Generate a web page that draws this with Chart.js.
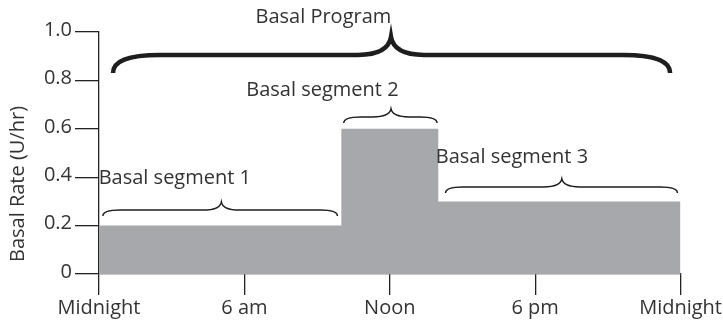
<!DOCTYPE html>
<html>
<head>
<meta charset="utf-8">
<script src="https://cdn.jsdelivr.net/npm/chart.js@4"></script>
<style>
  html, body { margin: 0; padding: 0; background: #fff; }
  #wrap { width: 723px; height: 322px; position: relative; }
</style>
</head>
<body>
<div id="wrap"><canvas id="chart"></canvas></div>
<script>
// step profile: hour of the change and the rate from that hour on
const hours = [0, 10, 14, 24];
const rates = [0.2, 0.6, 0.3, 0.3];

const xTickLabels = ['Midnight', '6 am', 'Noon', '6 pm', 'Midnight'];
const yTickLabels = ['0', '0.2', '0.4', '0.6', '0.8', '1.0'];
const yTitle = 'Basal Rate (U/hr)';

// braces (hours / rate units)
const braceNames = ['Basal Program', 'Basal segment 1', 'Basal segment 2', 'Basal segment 3'];
const braceFrom = [0.58, 0.16, 10.1, 14.3];
const braceTo = [23.57, 9.84, 13.95, 23.87];
const braceTip = [12.05, 5.05, 12.05, 19.1];
const braceLevel = [0.905, 0.264, 0.649, 0.36];
const labelX = [9.26, 3.13, 9.22, 17.04];
const labelY = [1.062, 0.397, 0.76, 0.483];

const textColor = '#333';
const font = '"Open Sans", sans-serif';

function drawBrace(ctx, x0, x1, xm, yl, h, t, r, rt) {
    ctx.beginPath();
    ctx.moveTo(x0, yl + h);
    ctx.bezierCurveTo(x0, yl + h * 0.35, x0 + r * 0.3, yl, x0 + r, yl);
    ctx.lineTo(xm - rt, yl);
    ctx.bezierCurveTo(xm - rt * 0.3, yl, xm - rt * 0.05, yl - t * 0.45, xm, yl - t);
    ctx.bezierCurveTo(xm + rt * 0.05, yl - t * 0.45, xm + rt * 0.3, yl, xm + rt, yl);
    ctx.lineTo(x1 - r, yl);
    ctx.bezierCurveTo(x1 - r * 0.3, yl, x1, yl + h * 0.35, x1, yl + h);
    ctx.stroke();
}

const braces = {
    id: 'braces',
    afterDraw(chart) {
        const ctx = chart.ctx;
        const x = chart.scales.x, y = chart.scales.y;
        ctx.save();
        ctx.strokeStyle = '#1e1e1e';
        ctx.lineCap = 'butt';
        for (let i = 0; i < braceNames.length; i++) {
            const big = i === 0;
            ctx.lineWidth = big ? 4.5 : 1.5;
            drawBrace(ctx,
                x.getPixelForValue(braceFrom[i]),
                x.getPixelForValue(braceTo[i]),
                x.getPixelForValue(braceTip[i]),
                y.getPixelForValue(braceLevel[i]),
                big ? 18 : 6, big ? 18 : 8, big ? 47 : 17, big ? 33 : 18);

            ctx.fillStyle = textColor;
            ctx.font = '20px ' + font;
            ctx.textAlign = 'center';
            ctx.textBaseline = 'middle';
            ctx.fillText(braceNames[i], x.getPixelForValue(labelX[i]), y.getPixelForValue(labelY[i]));
        }
        // y axis title
        ctx.translate(18, 184);
        ctx.rotate(-Math.PI / 2);
        ctx.font = '20px ' + font;
        ctx.fillText(yTitle, 0, 0);
        ctx.restore();
    }
};

new Chart(document.getElementById('chart'), {
    type: 'line',
    data: {
        datasets: [{
            data: hours.map((h, i) => ({ x: h, y: rates[i] })),
            stepped: 'before',
            fill: 'origin',
            backgroundColor: '#a7a8ab',
            borderWidth: 0,
            pointRadius: 0
        }]
    },
    options: {
        responsive: true,
        maintainAspectRatio: false,
        animation: false,
        layout: { padding: { top: 32, right: 41, left: 0, bottom: 0 } },
        plugins: { legend: { display: false }, tooltip: { enabled: false } },
        scales: {
            x: {
                type: 'linear',
                min: 0,
                max: 24,
                z: 1,
                afterFit: s => { s.height = 48; },
                grid: { drawOnChartArea: false, tickLength: 21, color: '#222', lineWidth: 1.3 },
                border: { display: true, color: '#222', width: 1.3 },
                ticks: {
                    stepSize: 6,
                    padding: 1,
                    color: textColor,
                    font: { family: font, size: 20 },
                    maxRotation: 0,
                    callback: v => xTickLabels[v / 6]
                }
            },
            y: {
                min: 0,
                max: 1,
                z: 1,
                afterFit: s => { s.width = 99; },
                grid: { drawOnChartArea: false, tickLength: 24, color: '#222', lineWidth: 1.3 },
                border: { display: true, color: '#222', width: 1.3 },
                ticks: {
                    stepSize: 0.2,
                    padding: 3,
                    labelOffset: -2,
                    color: textColor,
                    font: { family: font, size: 20 },
                    callback: v => yTickLabels[Math.round(v * 5)]
                }
            }
        }
    },
    plugins: [braces]
});
</script>
</body>
</html>
